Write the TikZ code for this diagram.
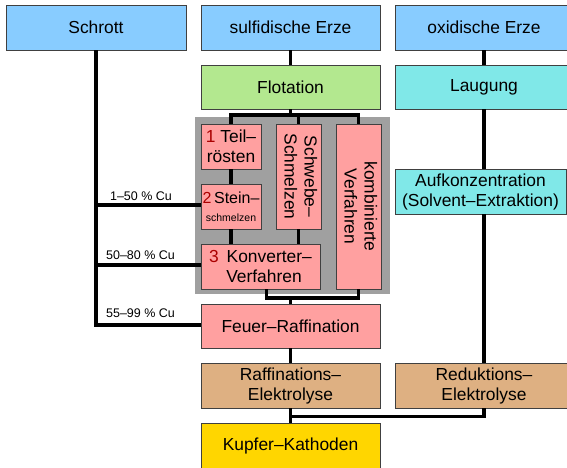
\documentclass[tikz,border=0pt]{standalone}
\usepackage{fontspec}
\setmainfont{Liberation Sans}
\usepackage{graphicx}
\definecolor{cblue}{RGB}{136,204,255}
\definecolor{cgreen}{RGB}{179,232,143}
\definecolor{ccyan}{RGB}{128,232,232}
\definecolor{cpink}{RGB}{255,160,160}
\definecolor{ctan}{RGB}{222,176,130}
\definecolor{cgold}{RGB}{255,214,0}
\definecolor{cgray}{RGB}{160,160,160}
\definecolor{numred}{RGB}{170,0,0}
\newcommand{\mainsize}{\fontsize{17.4}{20}\selectfont}
\newcommand{\smallsize}{\fontsize{12.5}{14}\selectfont}
\tikzset{
  box/.style={draw=black!75, line width=0.8pt, inner sep=0pt, align=center, font=\mainsize},
  bluebox/.style={box, fill=cblue},
  greenbox/.style={box, fill=cgreen},
  cyanbox/.style={box, fill=ccyan},
  pinkbox/.style={box, fill=cpink},
  tanbox/.style={box, fill=ctan},
  goldbox/.style={box, fill=cgold},
  conn/.style={draw=black, line width=3.5pt},
  cu/.style={anchor=base, inner sep=0pt, font=\smallsize},
}
\newcommand{\wh}[2]{minimum width=#1pt, minimum height=#2pt}
\begin{document}
\begin{tikzpicture}[x=1pt, y=1pt]
\useasboundingbox (0,0) rectangle (567,-467);
\fill[white] (0,0) rectangle (567,-467);
\clip (0,0) rectangle (567,-467);

% gray background panel
\node[fill=cgray, inner sep=0pt, minimum width=195pt, minimum height=177pt] (panel) at (292.5,-205.5) {};

% nodes
\node[bluebox, minimum width=180pt, minimum height=45pt] (schrott) at (96,-27.5) {Schrott};
\node[bluebox, minimum width=179pt, minimum height=45pt] (sulf) at (290.5,-27.5) {sulfidische Erze};
\node[bluebox, minimum width=178pt, minimum height=45pt] (oxid) at (484,-27.5) {oxidische Erze};
\node[greenbox, minimum width=179pt, minimum height=44pt] (flot) at (290.5,-87) {Flotation};
\node[cyanbox, minimum width=178pt, minimum height=44pt] (laug) at (484,-87) {Laugung};

\node[pinkbox, minimum width=60pt, minimum height=45pt] (teil) at (231,-146.5)
  {\textcolor{numred}{1} Teil–\\rösten};
\node[pinkbox, minimum width=60pt, minimum height=45pt, font=\fontsize{16}{19}\selectfont] (stein) at (231,-206.5)
  {\textcolor{numred}{2}\,Stein–\\[-1pt]{\fontsize{10.5}{12}\selectfont schmelzen}};
\node[pinkbox, minimum width=119pt, minimum height=45pt] (konv) at (260.5,-266.5)
  {\textcolor{numred}{3}\hspace{0.45em}Konverter–\\\hspace{0.4em}Verfahren};
\node[pinkbox, minimum width=45pt, minimum height=105pt] (schwebe) at (298.5,-176.5)
  {\rotatebox{-90}{\begin{tabular}{@{}c@{}}Schwebe–\\Schmelzen\end{tabular}}};
\node[pinkbox, minimum width=45pt, minimum height=165pt] (kombi) at (358.5,-206.5)
  {\rotatebox{-90}{\begin{tabular}{@{}c@{}}kombinierte\\Verfahren\end{tabular}}};

\node[cyanbox, minimum width=171pt, minimum height=45pt] (aufk) at (480.5,-191.5)
  {Aufkonzentration\\(Solvent–Extraktion)};

\node[pinkbox, minimum width=179pt, minimum height=44pt] (feuer) at (290.5,-326) {Feuer–Raffination};
\node[tanbox, minimum width=179pt, minimum height=45pt] (raff) at (290.5,-385.5) {Raffinations–\\Elektrolyse};
\node[tanbox, minimum width=178pt, minimum height=45pt] (reduk) at (484,-385.5) {Reduktions–\\Elektrolyse};
\node[goldbox, minimum width=179pt, minimum height=45pt] (kupfer) at (290.5,-445.5) {Kupfer–Kathoden};

% junction coordinates
\coordinate (jt) at (290.5,-115);
\coordinate (jb) at (290.5,-298);
\coordinate (jr) at (290.5,-416.5);
\coordinate (kb) at (266.5,-289);

% connectors: scrap line
\draw[conn] (schrott.south) |- ([yshift=1pt]feuer.west);
\draw[conn] (schrott.south |- 0,-205) -- (stein.west |- 0,-205);
\draw[conn] (schrott.south |- 0,-265) -- (konv.west |- 0,-265);

% sulfidic route
\draw[conn] (sulf.south) -- (flot.north);
\draw[conn] (flot.south) -- (jt);
\draw[conn] (teil.north) |- (kombi.north |- jt) -- (kombi.north);
\draw[conn] (schwebe.north) -- (schwebe.north |- jt);
\draw[conn] (teil.south) -- (stein.north);
\draw[conn] (stein.south) -- (stein.south |- konv.north);
\draw[conn] (schwebe.south) -- (schwebe.south |- konv.north);
\draw[conn] (kb) |- (kombi.south |- jb) -- (kombi.south);
\draw[conn] (jb) -- (feuer.north);
\draw[conn] (feuer.south) -- (raff.north);
\draw[conn] (raff.south) -- (kupfer.north);

% oxidic route
\draw[conn] (oxid.south) -- (laug.north);
\draw[conn] (laug.south) -- (laug.south |- aufk.north);
\draw[conn] (laug.south |- aufk.south) -- (reduk.north);
\draw[conn] (reduk.south) |- (jr);

% labels
\node[cu] (l1) at (141,-200) {1–50 \% Cu};
\node[cu] (l2) at (140.5,-259) {50–80 \% Cu};
\node[cu] (l3) at (140.5,-317) {55–99 \% Cu};
\end{tikzpicture}
\end{document}
